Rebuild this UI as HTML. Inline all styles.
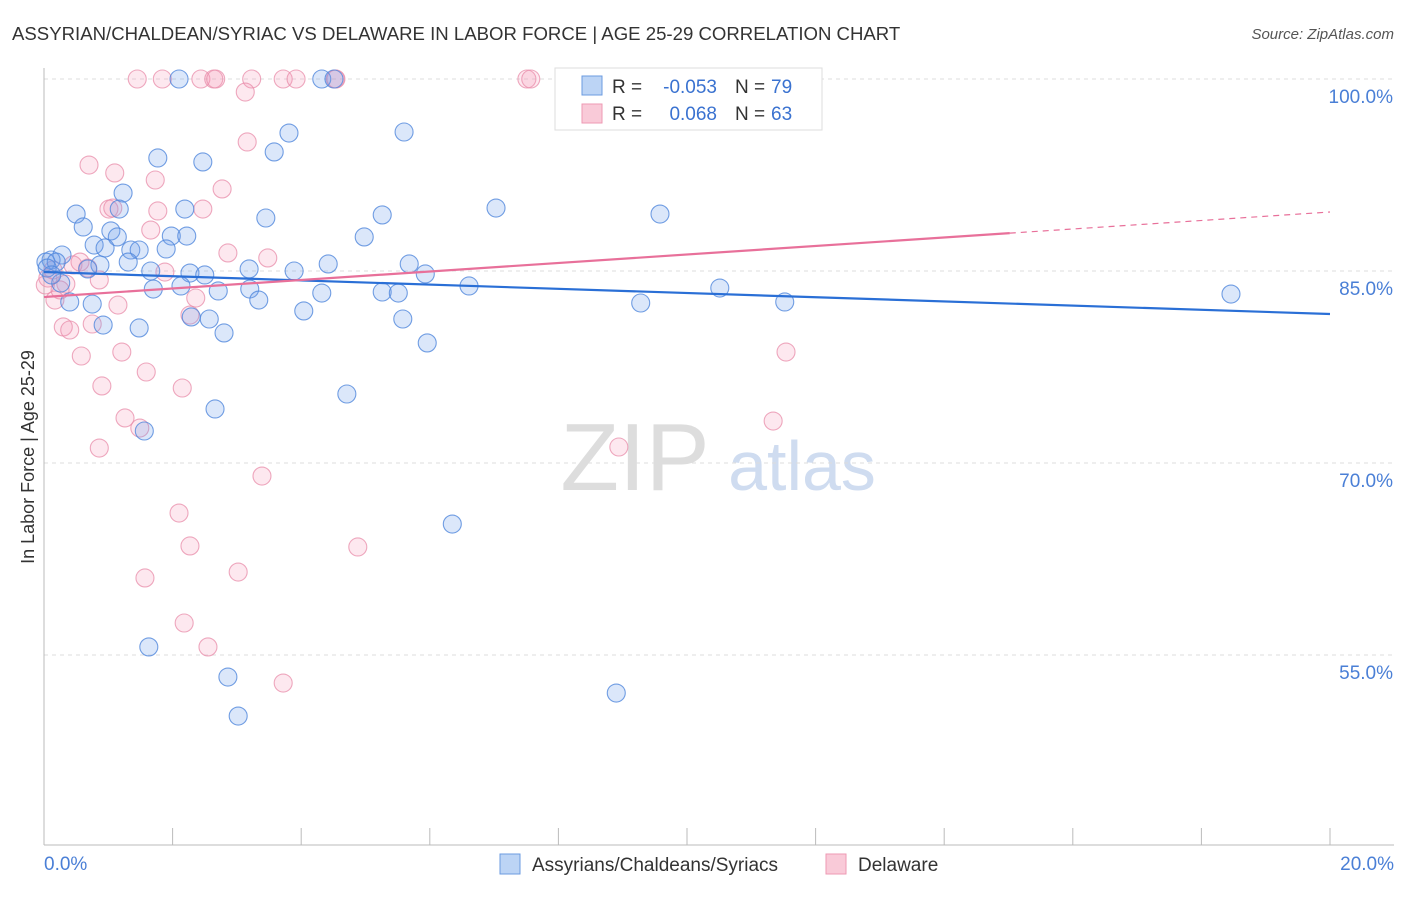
<!DOCTYPE html>
<html><head><meta charset="utf-8"><style>
body{margin:0;background:#fff;font-family:"Liberation Sans",sans-serif}
svg text{font-family:"Liberation Sans",sans-serif}
</style></head><body>
<svg id="c" width="1406" height="892" xmlns="http://www.w3.org/2000/svg">
<text x="12" y="40" font-size="18.6" fill="#333">ASSYRIAN/CHALDEAN/SYRIAC VS DELAWARE IN LABOR FORCE | AGE 25-29 CORRELATION CHART</text>
<text x="1394" y="39" font-size="15" fill="#555" font-style="italic" text-anchor="end">Source: ZipAtlas.com</text>
<g>
<text x="635" y="490" font-size="96" fill="#ddd" font-family="Liberation Serif" text-anchor="middle">ZIP</text>
<text x="802" y="490" font-size="70" fill="#cfdcf0" text-anchor="middle">atlas</text>
</g>
<g id="grid"></g>
<g id="axes"></g>
<g id="pts"></g>
<g id="trend"></g>
<text transform="translate(34,457) rotate(-90)" font-size="18" fill="#333" text-anchor="middle">In Labor Force | Age 25-29</text>
<g>
<rect x="555" y="68" width="267" height="62" fill="#fff" stroke="#ddd"/>
<rect x="582" y="76" width="20" height="19" fill="#bcd4f5" stroke="#6b9be0"/>
<rect x="582" y="104" width="20" height="19" fill="#f9cad8" stroke="#ee99b3"/>
<text x="612" y="93" font-size="19" fill="#333">R =</text>
<text x="717" y="93" font-size="19" fill="#3a72d0" text-anchor="end">-0.053</text>
<text x="735" y="93" font-size="19" fill="#333">N =</text>
<text x="771" y="93" font-size="19" fill="#3a72d0">79</text>
<text x="612" y="120" font-size="19" fill="#333">R =</text>
<text x="717" y="120" font-size="19" fill="#3a72d0" text-anchor="end">0.068</text>
<text x="735" y="120" font-size="19" fill="#333">N =</text>
<text x="771" y="120" font-size="19" fill="#3a72d0">63</text>
</g>
<g>
<rect x="500" y="854" width="20" height="20" fill="#bcd4f5" stroke="#6b9be0"/>
<text x="532" y="871" font-size="19" fill="#333">Assyrians/Chaldeans/Syriacs</text>
<rect x="826" y="854" width="20" height="20" fill="#f9cad8" stroke="#ee99b3"/>
<text x="858" y="871" font-size="19" fill="#333">Delaware</text>
</g>
</svg>
<script>
const yTicks=[100,85,70,55];
const yTickLabels=["100.0%","85.0%","70.0%","55.0%"];
const xTickLabels=["0.0%","20.0%"];
const blueX=[2.10,4.32,4.51,11.00,5.60,3.81,1.77,2.47,3.58,1.23,0.50,1.17,2.19,3.45,5.26,7.03,9.58,0.61,1.04,1.14,1.98,2.22,4.98,0.78,0.95,1.35,1.48,1.90,0.28,0.11,0.03,0.19,0.87,1.31,1.66,2.27,2.50,3.19,3.89,4.42,5.68,5.93,0.68,0.26,1.70,2.13,2.71,3.20,3.34,4.32,5.26,5.51,6.61,10.51,0.40,0.75,9.28,11.52,18.46,2.57,2.29,4.04,5.58,1.48,0.92,2.80,5.96,4.71,2.66,1.56,6.35,1.63,2.86,8.90,3.02,0.05,0.12];
const blueY=[100,100,100,100,95.86,95.78,93.83,93.52,94.30,91.09,89.45,89.84,89.84,89.14,89.38,89.92,89.45,88.44,88.13,87.66,87.73,87.73,87.66,87.03,86.80,86.64,86.64,86.72,86.25,85.86,85.70,85.70,85.47,85.70,85.00,84.84,84.69,85.16,85.00,85.55,85.55,84.77,85.16,84.06,83.59,83.83,83.44,83.59,82.73,83.28,83.36,83.28,83.83,83.67,82.58,82.42,82.50,82.58,83.20,81.25,81.41,81.88,81.25,80.55,80.78,80.16,79.38,75.39,74.22,72.50,65.23,55.63,53.28,52.03,50.23,85.23,84.69];
const pinkX=[1.45,1.84,2.44,2.64,2.67,3.23,3.72,3.92,4.53,4.54,7.51,7.57,9.97,3.13,3.16,0.70,1.10,1.73,2.77,1.01,1.07,1.77,2.47,1.66,2.86,3.48,0.56,0.45,0.68,1.88,0.86,0.34,0.17,2.36,1.15,2.27,0.30,0.40,0.75,0.58,1.21,1.59,0.90,2.15,1.26,1.49,0.86,3.39,2.10,2.27,4.88,1.57,3.02,2.18,2.55,3.72,8.94,11.34,11.54,0.06,0.14,0.02,0.25];
const pinkY=[100,100,100,100,100,100,100,100,100,100,100,100,100,98.98,95.08,93.28,92.66,92.11,91.41,89.84,89.92,89.69,89.84,88.20,86.41,86.02,85.70,85.47,85.23,84.92,84.30,83.98,82.73,82.89,82.34,81.56,80.63,80.39,80.86,78.36,78.67,77.11,76.02,75.86,73.52,72.73,71.17,68.98,66.09,63.52,63.44,61.02,61.48,57.50,55.63,52.81,71.25,73.28,78.67,84.45,85.08,83.91,83.52];
const blueTrend=[84.92,81.64];
const pinkTrend=[82.97,89.61];
const NS='http://www.w3.org/2000/svg';
const X0=44,X1=1330,Y100=79,PX15=192;
function sx(v){return X0+(v/20)*(X1-X0);}
function sy(v){return Y100+(100-v)/15*PX15;}
function mk(t,a,p){const e=document.createElementNS(NS,t);for(const k in a)e.setAttribute(k,a[k]);p.appendChild(e);return e;}
const grid=document.getElementById('grid'),axes=document.getElementById('axes'),pts=document.getElementById('pts'),trend=document.getElementById('trend');
yTicks.forEach((t,i)=>{
 const l=mk('line',{x1:X0,x2:1394,y1:sy(t),y2:sy(t),stroke:'#ddd','stroke-dasharray':'4,4'},grid);
 
 
 const tx=mk('text',{x:1393,y:sy(t)+24,'font-size':19,fill:'#4a7fd6','text-anchor':'end'},axes);
 tx.textContent=yTickLabels[i];
 
 
});
const ya=mk('line',{x1:X0,x2:X0,y1:68,y2:845,stroke:'#bbb'},axes);


const xa=mk('line',{x1:X0,x2:1394,y1:845,y2:845,stroke:'#bbb'},axes);


for(let k=0;k<=10;k++){
 const v=k*2;
 const t=mk('line',{x1:sx(v),x2:sx(v),y1:828,y2:845,stroke:'#bbb'},axes);
 
 
}
[[0,'start',44],[20,'end',1394]].forEach((d,i)=>{
 const t=mk('text',{x:d[2],y:870,'font-size':19,fill:'#4a7fd6','text-anchor':d[1]},axes);
 t.textContent=xTickLabels[i];
 
 
});
function dots(xs,ys,fill,stroke,name){
 xs.forEach((x,i)=>{
  const c=mk('circle',{cx:sx(x),cy:sy(ys[i]),r:9,fill:fill,stroke:stroke,'stroke-width':1.1},pts);
  
  
 });
}
dots(pinkX,pinkY,'rgba(244,150,180,0.22)','rgba(232,140,170,0.75)','delaware-point');
dots(blueX,blueY,'rgba(110,160,235,0.25)','rgba(80,135,220,0.8)','assyrian-point');
const bl=mk('line',{x1:sx(0),y1:sy(blueTrend[0]),x2:sx(20),y2:sy(blueTrend[1]),stroke:'#2a6fd6','stroke-width':2.2},trend);


const pe=15.02,pm=pinkTrend[0]+(pinkTrend[1]-pinkTrend[0])*pe/20;
const pl=mk('line',{x1:sx(0),y1:sy(pinkTrend[0]),x2:sx(pe),y2:sy(pm),stroke:'#e8709a','stroke-width':2.2},trend);


const pd=mk('line',{x1:sx(pe),y1:sy(pm),x2:sx(20),y2:sy(pinkTrend[1]),stroke:'#e8709a','stroke-width':1.2,'stroke-dasharray':'6,5'},trend);


</script>
</body></html>
